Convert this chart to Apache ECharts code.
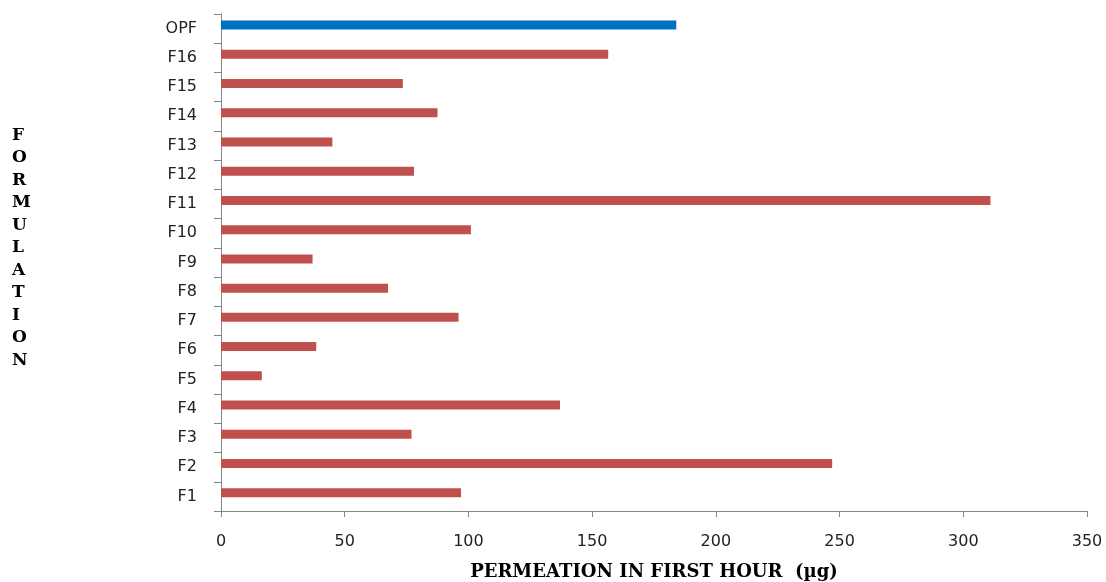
<!DOCTYPE html>
<html>
<head>
<meta charset="utf-8">
<script src="https://cdn.jsdelivr.net/npm/echarts@6/dist/echarts.min.js"></script>
<style>
  html, body { margin: 0; padding: 0; background: #fff; }
  #chart { width: 1106px; height: 582px; }
</style>
</head>
<body>
<div id="chart"></div>
<script>
// Formulations, bottom to top on the category axis
const formulations = ['F1', 'F2', 'F3', 'F4', 'F5', 'F6', 'F7', 'F8', 'F9', 'F10',
                      'F11', 'F12', 'F13', 'F14', 'F15', 'F16', 'OPF'];
// Permeation in the first hour (µg)
const permeation = [97, 247, 77, 137, 16.5, 38.5, 96, 67.5, 37, 101,
                    311, 78, 45, 87.5, 73.5, 156.5, 184];
// Reference product is highlighted separately
const referenceName = 'OPF';

const xTitle = 'PERMEATION IN FIRST HOUR  (µg)';
const yTitleLetters = ['F', 'O', 'R', 'M', 'U', 'L', 'A', 'T', 'I', 'O', 'N'];

const chart = echarts.init(document.getElementById('chart'));

chart.setOption({
  animation: false,
  backgroundColor: '#ffffff',
  grid: {
    left: 221, right: 19, top: 14, bottom: 71,
    containLabel: false,
    outerBoundsMode: 'none'
  },
  xAxis: {
    type: 'value',
    min: 0,
    max: 350,
    interval: 50,
    name: xTitle,
    nameLocation: 'middle',
    nameGap: 52,
    nameTextStyle: {
      fontFamily: 'DejaVu Serif', fontWeight: 'bold', fontSize: 18, color: '#000'
    },
    axisLine: { show: true, lineStyle: { color: '#868686', width: 1 } },
    axisTick: { show: true, length: 6, lineStyle: { color: '#868686' } },
    axisLabel: {
      margin: 23, fontFamily: 'DejaVu Sans', fontSize: 16, color: '#222'
    },
    splitLine: { show: false }
  },
  yAxis: {
    type: 'category',
    data: formulations,
    boundaryGap: true,
    axisLine: { show: true, lineStyle: { color: '#868686', width: 1 } },
    axisTick: { show: true, length: 7, lineStyle: { color: '#868686' } },
    axisLabel: {
      margin: 24, fontFamily: 'DejaVu Sans', fontSize: 16, color: '#222'
    }
  },
  series: [{
    type: 'bar',
    barWidth: 9,
    barGap: '-20%',
    data: permeation.map((v, i) => ({
      value: v,
      itemStyle: { color: formulations[i] === referenceName ? '#0070C0' : '#C0504D' }
    }))
  }, {
    // empty companion series: keeps the bars in the upper part of each band
    type: 'bar',
    barWidth: 9,
    silent: true,
    data: formulations.map(() => null)
  }],
  graphic: [{
    type: 'text',
    left: 12,
    top: 124,
    style: {
      text: yTitleLetters.join('\n'),
      fontFamily: 'DejaVu Serif',
      fontWeight: 'bold',
      fontSize: 17,
      lineHeight: 22.5,
      align: 'center',
      fill: '#000'
    }
  }]
});
</script>
</body>
</html>
